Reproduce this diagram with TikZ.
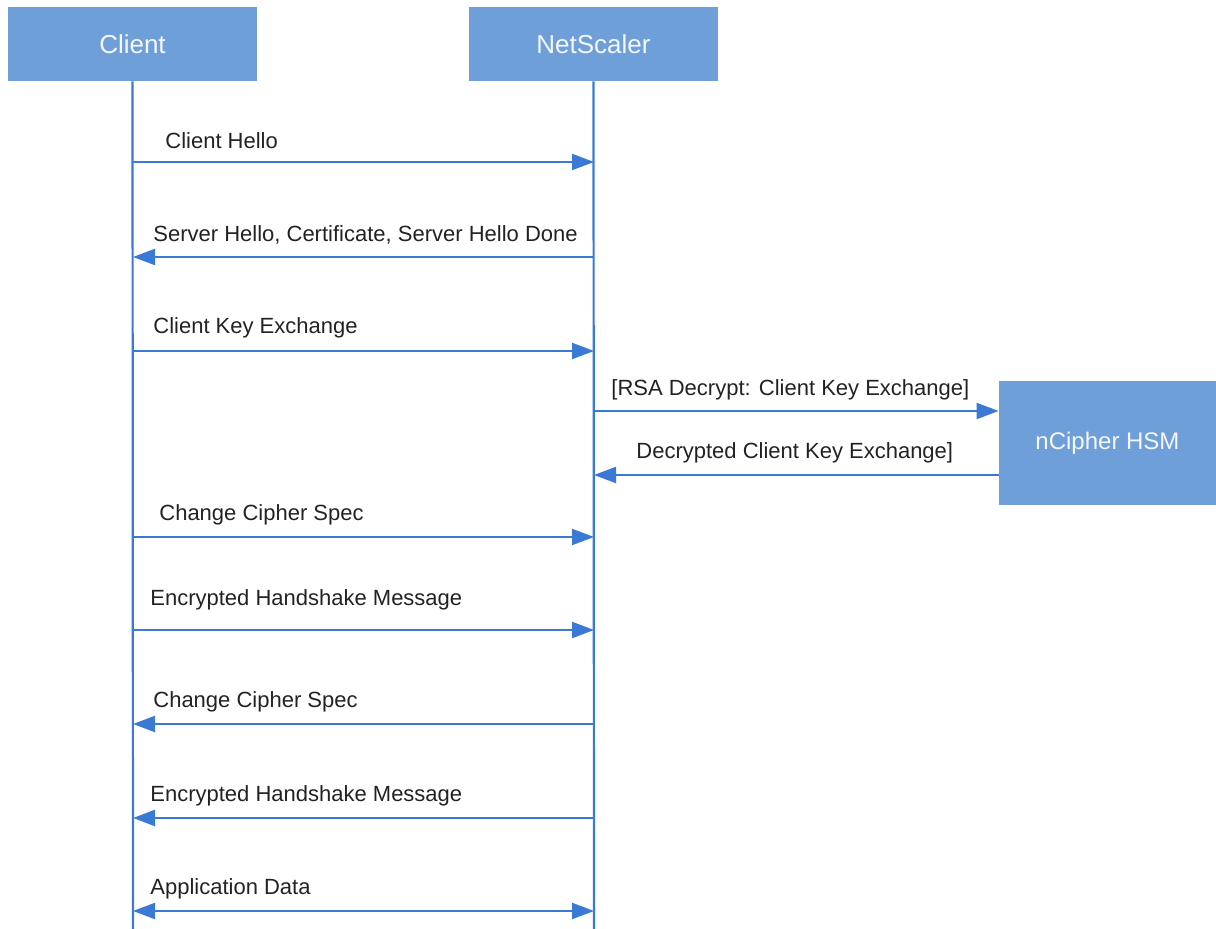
\documentclass[tikz,border=0pt]{standalone}
\usepackage{fontspec}
\setmainfont{Liberation Sans}
\usetikzlibrary{arrows.meta}
\definecolor{boxfill}{RGB}{111,159,216}
\definecolor{lifeline}{RGB}{58,122,212}
\definecolor{msgtext}{RGB}{34,34,34}
\tikzset{
  actor/.style={rectangle,fill=boxfill,text=white!92!boxfill,font=\fontsize{13}{15}\selectfont,
    minimum width=124.5pt,minimum height=37pt,inner sep=0pt},
  hsm/.style={actor,minimum width=108.5pt,minimum height=62pt,font=\fontsize{12}{14}\selectfont},
  life/.style={draw=lifeline,line width=1.1pt},
  msg/.style={draw=lifeline,line width=1.1pt,-{Triangle[length=11pt,width=8pt]}},
  msgboth/.style={msg,{Triangle[length=11pt,width=8pt]}-{Triangle[length=11pt,width=8pt]}},
  lab/.style={anchor=west,inner sep=0pt,text=msgtext,font=\fontsize{11}{13}\selectfont},
}
\begin{document}
\begin{tikzpicture}[x=0.5pt,y=-0.5pt]
  \useasboundingbox (0,0) rectangle (1216,929);
  % actors
  \node[actor] (client) at (132.5,44) {Client};
  \node[actor] (netscaler) at (593.5,44) {NetScaler};
  \node[hsm] (ncipher) at (1107.5,443) {nCipher HSM};
  \coordinate (clientend) at (133,929);
  \coordinate (netend) at (594,929);
  \draw[life] (client.south) -- (clientend);
  \draw[life] (netscaler.south) -- (netend);
  % points on the lifelines
  \coordinate (c1) at (133,162); \coordinate (n1) at (594,162);
  \coordinate (c2) at (133,257); \coordinate (n2) at (594,257);
  \coordinate (c3) at (133,351); \coordinate (n3) at (594,351);
  \coordinate (n4) at (594,411); \coordinate (h4) at (ncipher.west |- n4);
  \coordinate (n5) at (594,475); \coordinate (h5) at (ncipher.west |- n5);
  \coordinate (c6) at (133,537); \coordinate (n6) at (594,537);
  \coordinate (c7) at (133,630); \coordinate (n7) at (594,630);
  \coordinate (c8) at (133,724); \coordinate (n8) at (594,724);
  \coordinate (c9) at (133,818); \coordinate (n9) at (594,818);
  \coordinate (c10) at (133,911); \coordinate (n10) at (594,911);
  % messages
  \draw[msg] (c1) -- (n1);
  \draw[msg] (n2) -- (c2);
  \draw[msg] (c3) -- (n3);
  \draw[msg] (n4) -- (h4);
  \draw[msg] (h5) -- (n5);
  \draw[msg] (c6) -- (n6);
  \draw[msg] (c7) -- (n7);
  \draw[msg] (n8) -- (c8);
  \draw[msg] (n9) -- (c9);
  \draw[msgboth] (c10) -- (n10);
  % labels
  \node[lab] (l1) at (165,141) {Client Hello};
  \node[lab] (l2) at (153,235) {Server Hello, Certificate, Server Hello Done};
  \node[lab] (l3) at (153,328) {Client Key Exchange};
  \node[lab] (l4) at (611,390) {[RSA Decrypt: Client Key Exchange]};
  \node[lab] (l5) at (636,453) {Decrypted Client Key Exchange]};
  \node[lab] (l6) at (159,515) {Change Cipher Spec};
  \node[lab] (l7) at (150,600) {Encrypted Handshake Message};
  \node[lab] (l8) at (153,702) {Change Cipher Spec};
  \node[lab] (l9) at (150,796) {Encrypted Handshake Message};
  \node[lab] (l10) at (150,889) {Application Data};
\end{tikzpicture}
\end{document}
